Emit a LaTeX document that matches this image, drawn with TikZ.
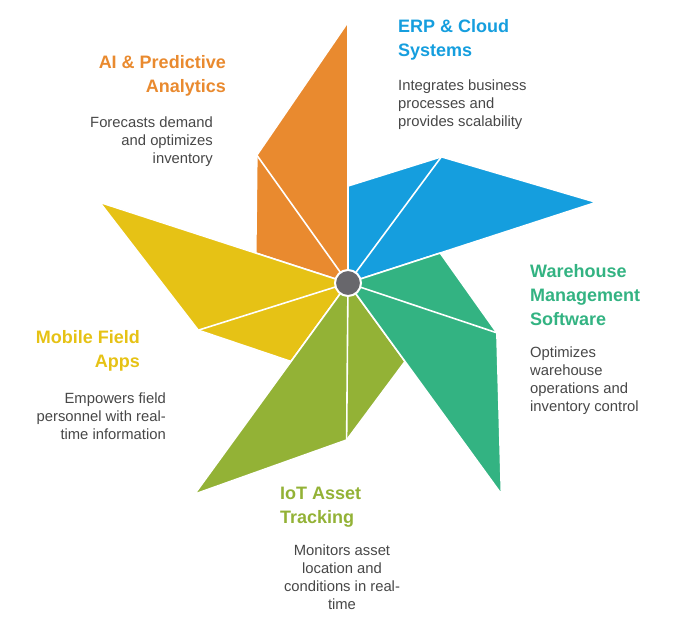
\documentclass[tikz,border=0pt]{standalone}
\usepackage{fontspec}
\setmainfont{Liberation Sans}
\definecolor{erpblue}{HTML}{159EDE}
\definecolor{aiorange}{HTML}{E98A2F}
\definecolor{wmsgreen}{HTML}{33B382}
\definecolor{iotolive}{HTML}{93B236}
\definecolor{mobyellow}{HTML}{E6C215}
\definecolor{hubgray}{HTML}{68676C}
\definecolor{txt}{HTML}{474747}
\tikzset{blade/.style={draw=white,line width=1.6pt,line join=round},sep/.style={draw=white,line width=1.6pt},ttl/.style={font=\bfseries\fontsize{18}{24}\selectfont,inner sep=0pt},desc/.style={font=\fontsize{14.8}{18}\selectfont,text=txt,inner sep=0pt},hub/.style={circle,fill=hubgray,draw=white,line width=2pt,minimum size=26pt,inner sep=0pt}}

\begin{document}
\begin{tikzpicture}[x=1pt,y=1pt]
\useasboundingbox (-348,283) rectangle (348,-346);
\filldraw[blade,fill=erpblue] (0,0)--(18:261)--(53.5:157)--(90:97)--cycle;
\filldraw[blade,fill=aiorange] (0,0)--(90:261)--(125.5:157)--(162:97)--cycle;
\filldraw[blade,fill=mobyellow] (0,0)--(162:261)--(197.5:157)--(234:97)--cycle;
\filldraw[blade,fill=iotolive] (0,0)--(234:261)--(269.5:157)--(306:97)--cycle;
\filldraw[blade,fill=wmsgreen] (0,0)--(306:261)--(341.5:157)--(378:97)--cycle;
\draw[sep] (0,0)--(53.5:157) (0,0)--(125.5:157) (0,0)--(197.5:157) (0,0)--(269.5:157) (0,0)--(341.5:157);
\node[hub] (c) at (0,0) {};
\node[ttl,text=erpblue,anchor=north west,align=left] (erp) at (50,264) {ERP \& Cloud\\Systems};
\node[desc,anchor=north west,align=left] (erpd) at (50,203.5) {Integrates business\\processes and\\provides scalability};
\node[ttl,text=aiorange,anchor=north east,align=right] (ai) at (-122,228) {AI \& Predictive\\Analytics};
\node[desc,anchor=north east,align=right] (aid) at (-135,166.5) {Forecasts demand\\and optimizes\\inventory};
\node[ttl,text=wmsgreen,anchor=north west,align=left] (wms) at (182,19) {Warehouse\\Management\\Software};
\node[desc,anchor=north west,align=left] (wmsd) at (182,-63.5) {Optimizes\\warehouse\\operations and\\inventory control};
\node[ttl,text=mobyellow,anchor=north east,align=right] (mob) at (-208,-47) {Mobile Field\\Apps};
\node[desc,anchor=north east,align=right] (mobd) at (-182,-109.5) {Empowers field\\personnel with real-\\time information};
\node[ttl,text=iotolive,anchor=north west,align=left] (iot) at (-68,-204) {IoT Asset\\Tracking};
\node[desc,anchor=north,align=center] (iotd) at (-6,-261.5) {Monitors asset\\location and\\conditions in real-\\time};
\end{tikzpicture}
\end{document}
